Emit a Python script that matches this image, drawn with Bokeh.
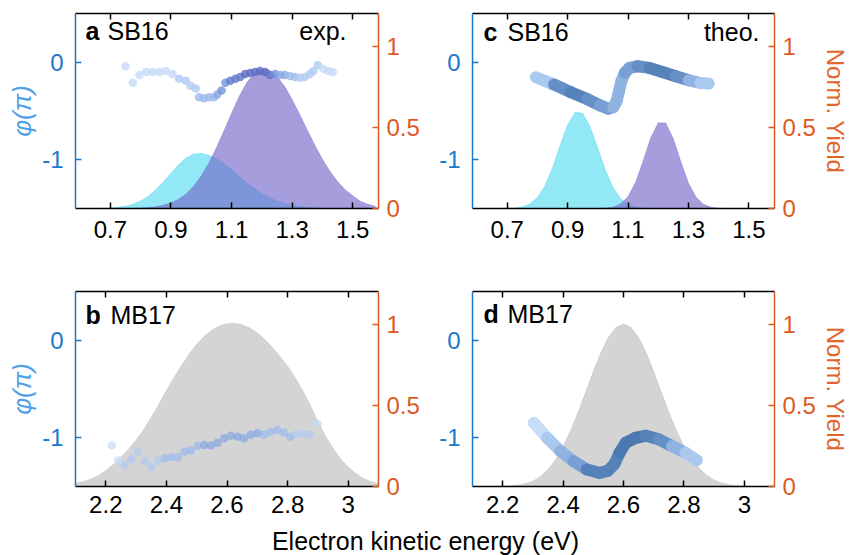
from bokeh.plotting import figure
from bokeh.models import Range1d, LinearAxis, FixedTicker, Label, ColumnDataSource, LinearColorMapper
from bokeh.layouts import column, row
from bokeh.transform import transform
from bokeh.embed import file_html
from bokeh.resources import INLINE

# ---------------- data ----------------
sb16_energy = [0.600, 0.625, 0.650, 0.675, 0.700, 0.725, 0.750, 0.775, 0.800, 0.825,
               0.850, 0.875, 0.900, 0.925, 0.950, 0.975, 1.000, 1.025, 1.050, 1.075,
               1.100, 1.125, 1.150, 1.175, 1.200, 1.225, 1.250, 1.275, 1.300, 1.325,
               1.350, 1.375, 1.400, 1.425, 1.450, 1.475, 1.500, 1.525, 1.550, 1.575]
sb16_exp_yield_low = [0.000, 0.000, 0.000, 0.001, 0.003, 0.007, 0.014, 0.026, 0.046, 0.075,
                      0.115, 0.163, 0.217, 0.269, 0.311, 0.336, 0.339, 0.328, 0.306, 0.274,
                      0.238, 0.198, 0.159, 0.123, 0.092, 0.066, 0.046, 0.031, 0.020, 0.012,
                      0.007, 0.004, 0.002, 0.001, 0.001, 0.000, 0.000, 0.000, 0.000, 0.000]
sb16_exp_yield_high = [0.000, 0.000, 0.000, 0.000, 0.000, 0.000, 0.001, 0.001, 0.003, 0.006,
                       0.011, 0.020, 0.034, 0.057, 0.090, 0.137, 0.200, 0.279, 0.374, 0.478,
                       0.586, 0.689, 0.774, 0.833, 0.859, 0.851, 0.814, 0.752, 0.671, 0.579,
                       0.483, 0.389, 0.303, 0.228, 0.166, 0.116, 0.079, 0.045, 0.026, 0.014]
sb16_theo_yield_low = [0.000, 0.000, 0.000, 0.000, 0.001, 0.003, 0.010, 0.028, 0.067, 0.140,
                       0.250, 0.386, 0.515, 0.592, 0.586, 0.501, 0.369, 0.235, 0.129, 0.061,
                       0.025, 0.009, 0.003, 0.001, 0.000, 0.000, 0.000, 0.000, 0.000, 0.000,
                       0.000, 0.000, 0.000, 0.000, 0.000, 0.000, 0.000, 0.000, 0.000, 0.000]
sb16_theo_yield_high = [0.000, 0.000, 0.000, 0.000, 0.000, 0.000, 0.000, 0.000, 0.000, 0.000,
                        0.000, 0.000, 0.000, 0.000, 0.000, 0.000, 0.000, 0.002, 0.008, 0.027,
                        0.073, 0.161, 0.293, 0.434, 0.528, 0.526, 0.429, 0.287, 0.157, 0.071,
                        0.026, 0.008, 0.002, 0.000, 0.000, 0.000, 0.000, 0.000, 0.000, 0.000]

mb17_energy = [2.100, 2.125, 2.150, 2.175, 2.200, 2.225, 2.250, 2.275, 2.300, 2.325,
               2.350, 2.375, 2.400, 2.425, 2.450, 2.475, 2.500, 2.525, 2.550, 2.575,
               2.600, 2.625, 2.650, 2.675, 2.700, 2.725, 2.750, 2.775, 2.800, 2.825,
               2.850, 2.875, 2.900, 2.925, 2.950, 2.975, 3.000, 3.025, 3.050, 3.075, 3.100]
mb17_exp_yield = [0.020, 0.030, 0.045, 0.068, 0.098, 0.135, 0.180, 0.230, 0.285, 0.350,
                  0.425, 0.505, 0.590, 0.670, 0.745, 0.815, 0.875, 0.925, 0.962, 0.988,
                  1.002, 1.005, 0.995, 0.975, 0.945, 0.905, 0.855, 0.800, 0.740, 0.670,
                  0.590, 0.500, 0.400, 0.310, 0.235, 0.170, 0.120, 0.080, 0.050, 0.030, 0.015]
mb17_theo_yield = [0.000, 0.000, 0.000, 0.001, 0.002, 0.004, 0.008, 0.017, 0.032, 0.062,
                   0.105, 0.165, 0.245, 0.345, 0.458, 0.581, 0.707, 0.823, 0.917, 0.979,
                   1.000, 0.979, 0.917, 0.823, 0.707, 0.581, 0.458, 0.345, 0.249, 0.172,
                   0.114, 0.070, 0.040, 0.022, 0.011, 0.005, 0.002, 0.001, 0.000, 0.000, 0.000]

sb16_exp_x = [0.750, 0.774, 0.796, 0.818, 0.840, 0.862, 0.883, 0.905, 0.927, 0.949,
              0.965, 0.982, 0.993, 1.009, 1.026, 1.042, 1.053, 1.067, 1.080, 1.096,
              1.113, 1.129, 1.145, 1.162, 1.178, 1.194, 1.211, 1.227, 1.244, 1.260,
              1.276, 1.293, 1.310, 1.326, 1.342, 1.358, 1.370, 1.385, 1.403, 1.420, 1.434]
sb16_exp_phase = [-0.04, -0.21, -0.13, -0.10, -0.10, -0.10, -0.09, -0.12, -0.17, -0.19,
                  -0.24, -0.27, -0.36, -0.37, -0.36, -0.36, -0.33, -0.29, -0.21, -0.19,
                  -0.17, -0.15, -0.12, -0.11, -0.10, -0.09, -0.10, -0.13, -0.12, -0.13,
                  -0.13, -0.14, -0.15, -0.16, -0.15, -0.12, -0.09, -0.03, -0.07, -0.09, -0.10]
sb16_exp_weight = [0.10, 0.10, 0.10, 0.10, 0.10, 0.10, 0.10, 0.12, 0.15, 0.18,
                   0.22, 0.28, 0.32, 0.35, 0.38, 0.42, 0.50, 0.60, 0.70, 0.75,
                   0.80, 0.85, 0.88, 0.90, 0.92, 0.92, 0.90, 0.85, 0.70, 0.55,
                   0.45, 0.38, 0.32, 0.28, 0.25, 0.20, 0.18, 0.15, 0.12, 0.10, 0.10]

sb16_theo_x = [0.795, 0.855, 0.909, 0.964, 1.007, 1.034, 1.051, 1.062, 1.070, 1.078,
               1.089, 1.105, 1.132, 1.171, 1.214, 1.258, 1.301, 1.340, 1.367]
sb16_theo_phase = [-0.154, -0.229, -0.305, -0.377, -0.442, -0.476, -0.462, -0.400, -0.298, -0.195,
                   -0.110, -0.058, -0.041, -0.058, -0.100, -0.144, -0.185, -0.213, -0.219]
sb16_theo_weight = [0.05, 0.45, 0.80, 0.75, 0.60, 0.50, 0.45, 0.40, 0.40, 0.40,
                    0.45, 0.50, 0.60, 0.75, 0.85, 0.75, 0.50, 0.25, 0.05]

mb17_exp_x = [2.220, 2.241, 2.263, 2.285, 2.307, 2.329, 2.351, 2.372, 2.394, 2.416,
              2.438, 2.460, 2.481, 2.504, 2.525, 2.547, 2.569, 2.591, 2.613, 2.635,
              2.656, 2.678, 2.700, 2.722, 2.744, 2.766, 2.788, 2.810, 2.831, 2.853, 2.875, 2.900]
mb17_exp_phase = [-1.08, -1.23, -1.28, -1.22, -1.14, -1.24, -1.30, -1.23, -1.21, -1.20,
                  -1.20, -1.14, -1.13, -1.085, -1.075, -1.08, -1.05, -1.006, -0.98, -0.99,
                  -1.006, -0.97, -0.955, -0.97, -0.94, -0.92, -0.945, -0.99, -0.96, -0.965, -0.97, -0.86]
mb17_exp_weight = [0.10, 0.12, 0.15, 0.18, 0.20, 0.22, 0.25, 0.28, 0.30, 0.32,
                   0.35, 0.37, 0.40, 0.42, 0.44, 0.45, 0.46, 0.46, 0.46, 0.46,
                   0.46, 0.45, 0.44, 0.42, 0.40, 0.38, 0.35, 0.32, 0.28, 0.24, 0.18, 0.10]

mb17_theo_x = [2.303, 2.347, 2.391, 2.434, 2.478, 2.521, 2.548, 2.570, 2.587, 2.608,
               2.641, 2.674, 2.717, 2.761, 2.805, 2.843]
mb17_theo_phase = [-0.846, -1.000, -1.137, -1.240, -1.325, -1.360, -1.340, -1.270, -1.154, -1.050,
                   -1.000, -0.980, -1.016, -1.085, -1.154, -1.230]
mb17_theo_weight = [0.00, 0.10, 0.25, 0.45, 0.65, 0.80, 0.85, 0.85, 0.85, 0.90,
                    0.90, 0.85, 0.70, 0.50, 0.30, 0.10]

sb16_ticks = [0.7, 0.9, 1.1, 1.3, 1.5]
sb16_tick_labels = ["0.7", "0.9", "1.1", "1.3", "1.5"]
mb17_ticks = [2.2, 2.4, 2.6, 2.8, 3.0]
mb17_tick_labels = ["2.2", "2.4", "2.6", "2.8", "3"]
phase_ticks = [-1, 0]
phase_tick_labels = ["-1", "0"]
yield_ticks = [0, 0.5, 1]
yield_tick_labels = ["0", "0.5", "1"]

# ---------------- styling ----------------
FONT = "Liberation Sans"
BLUE = "#1a78cc"
BLUE_LABEL = "#4fa0e6"
ORANGE = "#dd5a22"
ORANGE_LABEL = "#e0662e"
CYAN_FILL = "#28d2ee"
PURPLE_FILL = "#7063c7"
GRAY_FILL = "#b0b0b0"
PAL_EXP = ["#c4daf7", "#b0cbf2", "#9bb9ec", "#86a6e3", "#7391d8", "#6379cb", "#5a6ac2"]
PAL_THEO = ["#c6def6", "#a9c9ee", "#8fb4e2", "#78a0d4", "#6590c6", "#5682ba", "#4c78b0"]


def style_axis(ax, color):
    ax.axis_line_color = color
    ax.axis_line_width = 1.5
    ax.major_tick_line_color = color
    ax.major_tick_line_width = 1.5
    ax.major_tick_in = 6
    ax.major_tick_out = 0
    ax.minor_tick_line_color = None
    ax.major_label_text_color = color
    ax.major_label_text_font = FONT
    ax.major_label_text_font_size = "24px"


def make_panel(xr, xticks, xlabels, width, height, borders, left_label, right_label, bottom_standoff):
    p = figure(width=width, height=height, x_range=Range1d(*xr), y_range=Range1d(-1.5, 0.5),
               output_backend="svg", toolbar_location=None, title=None,
               x_axis_location=None, y_axis_location=None,
               min_border_left=borders[0], min_border_right=borders[1],
               min_border_top=borders[2], min_border_bottom=borders[3],
               background_fill_color="white", border_fill_color="white",
               outline_line_color=None)
    p.extra_y_ranges = {"yield": Range1d(0, 1.2)}
    p.grid.visible = False

    bottom = LinearAxis(ticker=FixedTicker(ticks=xticks),
                        major_label_overrides=dict(zip(xticks, xlabels)))
    style_axis(bottom, "black")
    bottom.major_label_standoff = bottom_standoff
    p.add_layout(bottom, "below")

    # top frame edge: tick marks only (minor ticks, so no labels)
    top = LinearAxis(ticker=FixedTicker(ticks=[], minor_ticks=xticks))
    top.axis_line_color = "black"
    top.axis_line_width = 1.5
    top.major_tick_line_color = None
    top.minor_tick_line_color = "black"
    top.minor_tick_line_width = 1.5
    top.minor_tick_in = 6
    top.minor_tick_out = 0
    top.major_label_standoff = 0
    p.add_layout(top, "above")

    left = LinearAxis(ticker=FixedTicker(ticks=phase_ticks),
                      major_label_overrides=dict(zip(phase_ticks, phase_tick_labels)))
    style_axis(left, BLUE)
    left.major_label_standoff = 12
    if left_label:
        left.axis_label = left_label
        left.axis_label_text_font = FONT
        left.axis_label_text_font_size = "26px"
        left.axis_label_text_font_style = "italic"
        left.axis_label_text_color = BLUE_LABEL
        left.axis_label_standoff = 2
    p.add_layout(left, "left")

    right = LinearAxis(y_range_name="yield", ticker=FixedTicker(ticks=yield_ticks),
                       major_label_overrides=dict(zip(yield_ticks, yield_tick_labels)))
    style_axis(right, ORANGE)
    right.major_label_standoff = 8
    if right_label:
        right.axis_label = right_label
        right.axis_label_text_font = FONT
        right.axis_label_text_font_size = "24px"
        right.axis_label_text_font_style = "normal"
        right.axis_label_text_color = ORANGE_LABEL
        right.axis_label_standoff = 3
    p.add_layout(right, "right")
    return p


def add_fill(p, xs, ys, color, alpha):
    p.varea(x=xs, y1=0, y2=ys, y_range_name="yield", fill_color=color, fill_alpha=alpha)
    p.line(xs, ys, y_range_name="yield", line_color=color, line_alpha=0.35, line_width=1)


def add_points(p, xs, ys, w, size=8.5, alpha=0.8):
    mapper = LinearColorMapper(palette=PAL_EXP, low=0, high=1)
    src = ColumnDataSource(dict(x=xs, y=ys, w=w))
    p.scatter("x", "y", source=src, size=size, fill_color=transform("w", mapper),
              line_color=None, fill_alpha=alpha)


def add_curve(p, xs, ys, w):
    mapper = LinearColorMapper(palette=PAL_THEO, low=0, high=1)
    src = ColumnDataSource(dict(x0=xs[:-1], y0=ys[:-1], x1=xs[1:], y1=ys[1:],
                                w=[(a + b) / 2 for a, b in zip(w[:-1], w[1:])]))
    p.segment("x0", "y0", "x1", "y1", source=src, line_color=transform("w", mapper),
              line_width=12, line_cap="round")


def add_tag(p, x0, letter, name, center_dy, letter_dx, name_dx):
    p.add_layout(Label(x=x0, y=0.5, x_offset=letter_dx, y_offset=-center_dy, text=letter,
                       text_font=FONT, text_font_style="bold", text_font_size="25px",
                       text_baseline="middle", text_color="black"))
    p.add_layout(Label(x=x0, y=0.5, x_offset=name_dx, y_offset=-center_dy, text=name,
                       text_font=FONT, text_font_size="25px",
                       text_baseline="middle", text_color="black"))


def add_corner(p, x1, text, center_dy, dx):
    p.add_layout(Label(x=x1, y=0.5, x_offset=-dx, y_offset=-center_dy, text=text,
                       text_font=FONT, text_font_size="25px", text_align="right",
                       text_baseline="middle", text_color="black"))


SB_RANGE = (0.585, 1.585)
MB_RANGE = (2.1, 3.1)

# panel a
pa = make_panel(SB_RANGE, sb16_ticks, sb16_tick_labels, 422, 278, (75, 42, 13, 70), "φ(π)", None, 12)
add_fill(pa, sb16_energy, sb16_exp_yield_low, CYAN_FILL, 0.5)
add_fill(pa, sb16_energy, sb16_exp_yield_high, PURPLE_FILL, 0.63)
add_points(pa, sb16_exp_x, sb16_exp_phase, sb16_exp_weight)
add_tag(pa, SB_RANGE[0], "a", "SB16", 17, 10, 32)
add_corner(pa, SB_RANGE[1], "exp.", 17, 32)

# panel c
pc = make_panel(SB_RANGE, sb16_ticks, sb16_tick_labels, 429, 278, (50, 74, 13, 70), None, "Norm. Yield", 12)
add_fill(pc, sb16_energy, sb16_theo_yield_low, CYAN_FILL, 0.5)
add_fill(pc, sb16_energy, sb16_theo_yield_high, PURPLE_FILL, 0.63)
add_curve(pc, sb16_theo_x, sb16_theo_phase, sb16_theo_weight)
add_tag(pc, SB_RANGE[0], "c", "SB16", 18, 11, 35)
add_corner(pc, SB_RANGE[1], "theo.", 18, 15)

# panel b
pb = make_panel(MB_RANGE, mb17_ticks, mb17_tick_labels, 422, 246, (75, 42, 13, 38), "φ(π)", None, 9)
add_fill(pb, mb17_energy, mb17_exp_yield, GRAY_FILL, 0.55)
add_points(pb, mb17_exp_x, mb17_exp_phase, mb17_exp_weight, alpha=0.7)
add_tag(pb, MB_RANGE[0], "b", "MB17", 23, 10, 35)

# panel d
pd_ = make_panel(MB_RANGE, mb17_ticks, mb17_tick_labels, 429, 246, (50, 74, 13, 38), None, "Norm. Yield", 9)
add_fill(pd_, mb17_energy, mb17_theo_yield, GRAY_FILL, 0.55)
add_curve(pd_, mb17_theo_x, mb17_theo_phase, mb17_theo_weight)
add_tag(pd_, MB_RANGE[0], "d", "MB17", 22, 11, 35)

# shared x label strip
ps = figure(width=851, height=31, x_range=Range1d(0, 1), y_range=Range1d(0, 1),
            output_backend="svg", toolbar_location=None, title=None,
            x_axis_location=None, y_axis_location=None, min_border=0,
            background_fill_color=None, border_fill_color=None, outline_line_color=None)
ps.grid.visible = False
ps.add_layout(Label(x=0.4994, y=0, y_offset=15, text="Electron kinetic energy (eV)",
                    text_font=FONT, text_font_size="25px", text_align="center",
                    text_baseline="middle", text_color="black"))

layout = column(row(pa, pc), row(pb, pd_), ps)
open("out.html", "w").write(file_html(layout, INLINE))
